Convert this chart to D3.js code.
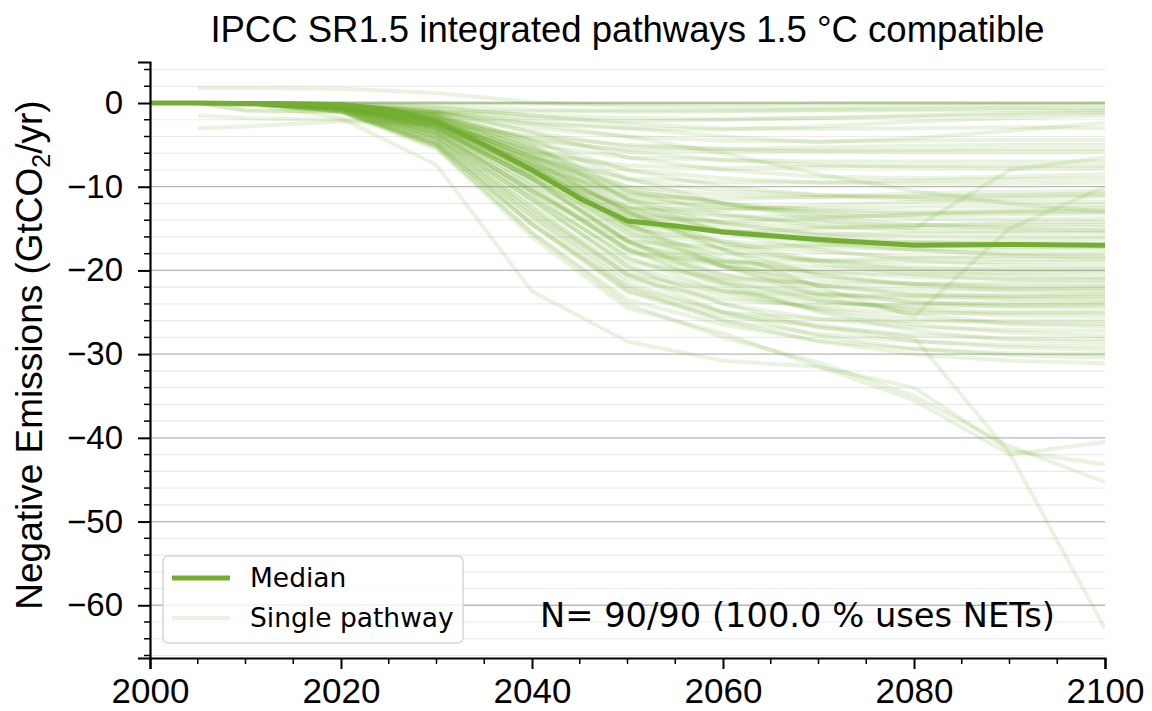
<!DOCTYPE html>
<html><head><meta charset="utf-8">
<script src="https://cdn.jsdelivr.net/npm/d3@7"></script>
<style>html,body{margin:0;padding:0;background:#fff;}svg{display:block;}</style>
</head><body>
<svg id="chart" width="1152" height="711"></svg>
<script>
// ---------- data ----------
const titleText = "IPCC SR1.5 integrated pathways 1.5 °C compatible";
const yLabelMain = "Negative Emissions (GtCO";
const yLabelSub = "2";
const yLabelEnd = "/yr)";
const noteText = "N= 90/90 (100.0 % uses NETs)";
const legendLabels = ["Median", "Single pathway"];
const xTicks = [2000, 2020, 2040, 2060, 2080, 2100];
const yTicks = [0, -10, -20, -30, -40, -50, -60];

const medianYears = [2000,2005,2010,2015,2020,2025,2030,2035,2040,2045,2050,2055,2060,2070,2080,2090,2100];
const medianValues = [0,0,-0.05,-0.1,-0.2,-0.8,-2.2,-5.0,-8.0,-11.4,-14.1,-14.7,-15.4,-16.3,-17.0,-16.9,-17.0];

const pathwayYears = [2005,2010,2020,2030,2040,2050,2060,2070,2080,2090,2100];
const pathways = [
[0,0,0,0,0,0,0,0,0,0,0],
[0,0,0,0,-0.1,-0.1,-0.1,0,0,0,0],
[1.8,1.8,1.7,1.2,0.1,-0.4,-0.5,-0.5,-0.4,-0.3,-0.2],
[0,0,-0.1,-0.4,-0.8,-0.9,-0.9,-0.8,-0.7,-0.6,-0.6],
[0,-0.9,-1.0,-1.1,-1.0,-1.0,-1.0,-0.9,-0.9,-0.8,-0.8],
[0,0,-0.2,-0.6,-1.5,-1.8,-1.9,-1.8,-1.5,-1.2,-1.0],
[0,0,-0.3,-0.9,-1.8,-2.2,-2.0,-1.8,-1.6,-1.4,-1.2],
[-0.1,-0.3,-0.5,-1.2,-2.5,-3.0,-3.2,-2.8,-2.2,-1.8,-1.5],
[0,0,-0.2,-1.0,-2.2,-3.0,-4.0,-4.7,-4.2,-3.3,-2.4],
[0,0,-0.1,-0.5,-1.5,-2.5,-3.0,-3.1,-3.0,-2.9,-3.0],
[0,-0.1,-0.3,-1.2,-3.0,-4.0,-4.5,-4.6,-4.5,-4.4,-4.4],
[0,0,-0.2,-1.0,-3.5,-5.2,-5.5,-5.3,-5.1,-5.0,-5.0],
[0,0,-0.3,-1.6,-4.5,-5.6,-5.8,-5.7,-5.6,-5.5,-5.5],
[-1.5,-1.8,-2.0,-2.4,-4.0,-5.0,-5.5,-5.8,-5.8,-5.8,-5.8],
[0,0,-0.2,-1.3,-4.5,-9.0,-12.0,-14.0,-15.0,-8.0,-6.5],
[0,-0.2,-0.4,-1.8,-5.0,-6.5,-6.8,-7.0,-7.0,-7.0,-7.0],
[0,0,-0.5,-2.4,-6.0,-7.5,-7.8,-7.6,-7.5,-7.5,-7.5],
[0,0,-0.3,-1.5,-4.2,-5.8,-6.8,-7.4,-7.7,-7.8,-7.8],
[0,0,-0.2,-1.0,-3.5,-6.5,-8.0,-8.8,-9.0,-8.8,-8.5],
[0,0,-0.4,-2.2,-6.5,-9.0,-9.5,-9.5,-9.3,-9.1,-9.0],
[-3.0,-2.8,-2.2,-2.6,-5.5,-8.0,-9.0,-9.5,-9.6,-9.6,-9.5],
[0,0,-0.3,-2.2,-7.0,-13.0,-17.5,-22.0,-25.5,-15.0,-10.0],
[0,0,-0.5,-2.6,-7.5,-11.0,-11.5,-11.2,-10.8,-10.6,-10.5],
[0,0,-0.3,-1.6,-5.5,-9.2,-10.5,-11.0,-11.2,-11.0,-10.8],
[0,-0.1,-0.4,-2.0,-6.5,-10.0,-11.0,-11.3,-11.2,-11.1,-11.0],
[0,0,-0.4,-2.8,-8.5,-12.5,-12.8,-12.2,-11.8,-11.4,-11.2],
[0,0,-0.2,-1.2,-4.5,-8.0,-10.0,-11.0,-11.5,-11.8,-11.8],
[0,0,-0.5,-2.4,-7.0,-11.5,-12.5,-12.6,-12.4,-12.3,-12.2],
[0,0,-0.3,-1.7,-6.0,-10.5,-12.0,-12.8,-13.0,-12.8,-12.5],
[0,0,-0.6,-3.0,-8.5,-13.5,-14.2,-13.8,-13.3,-12.9,-12.8],
[0,0,-0.4,-1.9,-6.5,-11.0,-12.5,-13.0,-13.2,-13.1,-13.0],
[0,-0.2,-0.5,-2.5,-8.0,-12.5,-13.5,-13.6,-13.4,-13.3,-13.2],
[0,0,-0.3,-1.5,-5.5,-10.0,-12.0,-13.2,-13.8,-13.9,-13.8],
[0,0,-0.5,-3.0,-9.0,-14.5,-15.5,-15.0,-14.6,-14.3,-14.2],
[0,0,-0.3,-1.8,-6.0,-11.5,-13.5,-14.3,-14.6,-14.5,-14.5],
[0,0,-0.4,-2.4,-7.5,-13.0,-14.3,-14.8,-14.9,-14.8,-14.8],
[0,0,-0.2,-1.5,-5.0,-10.5,-13.2,-14.7,-15.3,-15.3,-15.2],
[0,0,-0.5,-2.8,-8.5,-14.0,-15.3,-15.7,-15.6,-15.5,-15.5],
[0,0,-0.3,-2.0,-6.5,-12.0,-14.5,-15.5,-16.0,-16.0,-16.0],
[0,0,-0.6,-3.6,-10.5,-16.5,-17.3,-17.0,-16.6,-16.4,-16.3],
[0,0,-0.4,-2.2,-7.0,-13.0,-15.3,-16.3,-16.7,-16.8,-16.8],
[0,0,-0.2,-1.6,-5.5,-11.5,-14.3,-15.8,-16.6,-16.9,-17.0],
[0,0,-0.4,-2.6,-8.0,-13.5,-15.5,-16.5,-17.0,-17.2,-17.2],
[0,0,-0.6,-3.2,-9.0,-15.0,-16.5,-17.2,-17.5,-17.5,-17.5],
[0,0,-0.3,-1.8,-6.0,-12.5,-15.3,-16.8,-17.6,-18.0,-18.0],
[0,0,-0.7,-4.0,-11.5,-18.0,-19.0,-18.8,-18.5,-18.3,-18.3],
[0,0,-0.4,-2.2,-7.5,-14.0,-16.8,-17.8,-18.4,-18.7,-18.7],
[0,0,-0.5,-3.0,-9.0,-15.5,-18.0,-18.8,-19.0,-19.0,-19.0],
[0,0,-0.2,-1.4,-5.0,-11.5,-15.5,-17.5,-18.8,-19.4,-19.5],
[0,0,-0.6,-3.6,-10.5,-17.0,-19.0,-19.6,-19.8,-19.8,-19.8],
[0,0,-0.4,-2.6,-8.0,-14.5,-17.5,-18.8,-19.6,-20.0,-20.0],
[0,0,-0.6,-3.5,-10.5,-17.5,-19.5,-20.2,-20.4,-20.3,-20.3],
[0,0,-0.4,-2.5,-7.5,-13.5,-16.5,-18.8,-20.0,-20.6,-20.8],
[0,0,-0.5,-3.0,-9.5,-16.0,-18.8,-20.2,-20.8,-21.0,-21.0],
[0,0,-0.3,-2.2,-7.0,-13.0,-16.8,-19.2,-20.5,-21.1,-21.2],
[0,0,-0.7,-4.2,-12.0,-19.0,-21.0,-21.5,-21.6,-21.5,-21.5],
[0,0,-0.5,-3.2,-9.5,-16.5,-19.5,-21.0,-21.6,-21.9,-21.9],
[0,0,-0.4,-2.6,-8.0,-14.5,-18.5,-20.6,-21.6,-22.1,-22.0],
[0,0,-0.6,-3.6,-10.5,-17.5,-20.5,-21.8,-22.3,-22.3,-22.2],
[0,0,-0.3,-2.0,-6.5,-13.0,-17.5,-20.5,-21.8,-22.4,-22.5],
[0,0,-0.8,-4.5,-13.0,-20.5,-22.5,-23.0,-23.0,-22.9,-22.8],
[0,0,-0.5,-2.8,-8.5,-15.5,-19.5,-21.8,-22.8,-23.1,-23.0],
[0,0,-0.6,-3.8,-11.0,-18.5,-21.5,-22.8,-23.3,-23.2,-23.2],
[0,0,-0.4,-2.4,-7.5,-14.5,-19.0,-21.8,-23.0,-23.4,-23.5],
[0,0,-0.9,-4.8,-13.5,-21.0,-23.5,-24.2,-24.0,-23.8,-23.8],
[0,0,-0.5,-3.0,-9.0,-16.5,-20.5,-22.8,-23.8,-24.1,-24.0],
[0,0,-0.7,-4.0,-11.5,-19.5,-22.5,-23.8,-24.3,-24.2,-24.2],
[0,0,-0.4,-2.6,-8.0,-15.0,-19.5,-22.5,-23.8,-24.4,-24.5],
[0,0,-0.6,-3.4,-10.0,-17.5,-21.5,-23.6,-24.6,-25.0,-25.0],
[0,0,-0.8,-4.4,-12.5,-20.0,-23.0,-24.5,-25.1,-25.1,-25.1],
[0,0,-0.5,-3.0,-9.0,-16.5,-21.0,-23.5,-24.8,-25.4,-25.5],
[0,0,-1.0,-5.0,-14.5,-22.0,-25.0,-25.8,-26.1,-26.0,-26.0],
[0,0,-0.6,-3.6,-11.0,-18.5,-22.5,-24.6,-25.8,-26.3,-26.4],
[0,0,-0.4,-2.5,-7.5,-14.5,-19.5,-23.0,-25.2,-26.4,-26.7],
[0,0,-0.8,-4.4,-13.0,-20.5,-24.0,-25.8,-26.8,-27.1,-27.2],
[0,0,-0.6,-3.3,-10.0,-17.5,-22.0,-24.8,-26.5,-27.4,-27.8],
[0,0,-0.9,-4.8,-13.5,-21.5,-25.0,-26.8,-27.7,-28.1,-28.2],
[0,0,-0.5,-3.0,-9.0,-16.5,-21.5,-25.0,-27.2,-28.3,-28.6],
[0,0,-1.0,-5.0,-14.5,-22.5,-26.0,-27.6,-28.5,-28.9,-29.1],
[0,0,-0.7,-4.0,-11.5,-19.5,-24.0,-26.8,-28.4,-29.2,-29.5],
[0,0,-1.1,-5.3,-15.5,-23.5,-26.5,-28.4,-29.4,-29.9,-30.0],
[0,0,-0.7,-4.2,-12.5,-20.5,-25.0,-27.8,-29.4,-30.1,-30.4],
[0,0,-0.9,-4.8,-14.0,-22.0,-26.0,-28.5,-30.0,-30.8,-31.1],
[0,0,-1.8,-7.4,-22.5,-28.5,-30.8,-31.5,-34.0,-41.5,-43.2],
[0,0,-1.0,-5.2,-15.5,-24.0,-28.0,-31.0,-35.0,-41.0,-45.3],
[0,0,-1.1,-5.5,-16.0,-24.5,-27.5,-31.5,-35.5,-42.0,-40.5],
[0,0,-0.9,-5.0,-14.5,-22.5,-25.5,-26.5,-28.0,-41.8,-62.8],
[0,-0.9,-1.0,-2.0,-6.5,-10.5,-12.0,-13.5,-14.5,-15.0,-15.3],
[0,0,-0.2,-1.0,-2.5,-4.0,-6.0,-8.5,-10.5,-12.0,-13.0],
[0,0,-0.4,-2.0,-7.0,-12.5,-15.0,-16.5,-17.5,-18.2,-18.5]
];

// ---------- layout ----------
const M = {left: 150, right: 1105, top: 62, bottom: 658};
const green = "#74ad31";
const svg = d3.select("#chart");
const sans = "'Liberation Sans', Arial, Helvetica, sans-serif";
const dejavu = "'DejaVu Sans', sans-serif";

const x = d3.scaleLinear().domain([2000, 2100]).range([M.left, M.right]);
const y = d3.scaleLinear().domain([-66.3, 4.9]).range([M.bottom, M.top]);

// grid
const minorY = d3.range(-66, 5, 2).filter(v => v % 10 !== 0);
svg.append("g").selectAll("line").data(minorY).join("line")
  .attr("x1", M.left).attr("x2", M.right)
  .attr("y1", d => y(d)).attr("y2", d => y(d))
  .attr("stroke", "#ebebeb").attr("stroke-width", 1.2);
const majorGrid = d3.range(-60, 5, 10);
svg.append("g").selectAll("line").data(majorGrid).join("line")
  .attr("x1", M.left).attr("x2", M.right)
  .attr("y1", d => y(d)).attr("y2", d => y(d))
  .attr("stroke", "#b8b8b8").attr("stroke-width", 1.3);

// clip
svg.append("clipPath").attr("id", "clip").append("rect")
  .attr("x", M.left).attr("y", M.top).attr("width", M.right - M.left).attr("height", M.bottom - M.top);

const line = d3.line().x(d => x(d[0])).y(d => y(d[1]));
const gLines = svg.append("g").attr("clip-path", "url(#clip)");
gLines.selectAll("path.pw").data(pathways).join("path")
  .attr("class", "pw")
  .attr("d", vals => line(vals.map((v, i) => [pathwayYears[i], v])))
  .attr("fill", "none").attr("stroke", green).attr("stroke-opacity", 0.15)
  .attr("stroke-width", 4).attr("stroke-linejoin", "round");
gLines.append("path")
  .attr("d", line(medianYears.map((yr, i) => [yr, medianValues[i]])))
  .attr("fill", "none").attr("stroke", green).attr("stroke-width", 5)
  .attr("stroke-linejoin", "round");

// axes
const xAxis = d3.axisBottom(x).tickValues(xTicks).tickFormat(d3.format("d")).tickSize(11).tickPadding(9);
const gx = svg.append("g").attr("transform", `translate(0,${M.bottom})`).call(xAxis);
gx.select(".domain").attr("stroke-width", 2.2).attr("stroke", "#000");
gx.selectAll(".tick line").attr("stroke-width", 2);
gx.selectAll("text").attr("font-family", sans).attr("font-size", 35).attr("fill", "#000");
const xMinor = d3.range(2005, 2100, 5).filter(v => v % 20 !== 0);
svg.append("g").selectAll("line").data(xMinor).join("line")
  .attr("x1", d => x(d)).attr("x2", d => x(d))
  .attr("y1", M.bottom).attr("y2", M.bottom + 6)
  .attr("stroke", "#000").attr("stroke-width", 1.5);

const yAxis = d3.axisLeft(y).tickValues(yTicks).tickSize(12).tickPadding(15);
const gy = svg.append("g").attr("transform", `translate(${M.left},0)`).call(yAxis);
gy.select(".domain").attr("stroke-width", 2.2).attr("stroke", "#000");
gy.selectAll(".tick line").attr("stroke-width", 2);
gy.selectAll("text").attr("font-family", sans).attr("font-size", 33).attr("fill", "#000");
svg.append("g").selectAll("line").data(minorY).join("line")
  .attr("x1", M.left - 6).attr("x2", M.left)
  .attr("y1", d => y(d)).attr("y2", d => y(d))
  .attr("stroke", "#000").attr("stroke-width", 1.5);

// title
svg.append("text").attr("x", (M.left + M.right) / 2).attr("y", 42)
  .attr("text-anchor", "middle").attr("font-family", sans).attr("font-size", 36.5)
  .text(titleText);

// y label
const yl = svg.append("text")
  .attr("transform", `translate(42,355) rotate(-90)`)
  .attr("text-anchor", "middle").attr("font-family", sans).attr("font-size", 37);
yl.append("tspan").text(yLabelMain);
yl.append("tspan").attr("font-size", 25).attr("dy", 8).text(yLabelSub);
yl.append("tspan").attr("dy", -8).text(yLabelEnd);

// legend
const lg = svg.append("g");
lg.append("rect").attr("x", 163).attr("y", 556).attr("width", 300).attr("height", 87)
  .attr("rx", 5).attr("fill", "#fff").attr("fill-opacity", 0.8)
  .attr("stroke", "#d6d6d6").attr("stroke-width", 1.5);
const legRows = [{y: 578, op: 1}, {y: 618, op: 0.15}];
legendLabels.forEach((lab, i) => {
  lg.append("line").attr("x1", 172).attr("x2", 230)
    .attr("y1", legRows[i].y).attr("y2", legRows[i].y)
    .attr("stroke", green).attr("stroke-opacity", legRows[i].op)
    .attr("stroke-width", i === 0 ? 5 : 4);
  lg.append("text").attr("x", 250).attr("y", legRows[i].y + 9)
    .attr("font-family", dejavu).attr("font-size", 26.5).text(lab);
});

// note
svg.append("text").attr("x", 1055).attr("y", 627).attr("text-anchor", "end")
  .attr("font-family", dejavu).attr("font-size", 33.7).text(noteText);
</script>
</body></html>
